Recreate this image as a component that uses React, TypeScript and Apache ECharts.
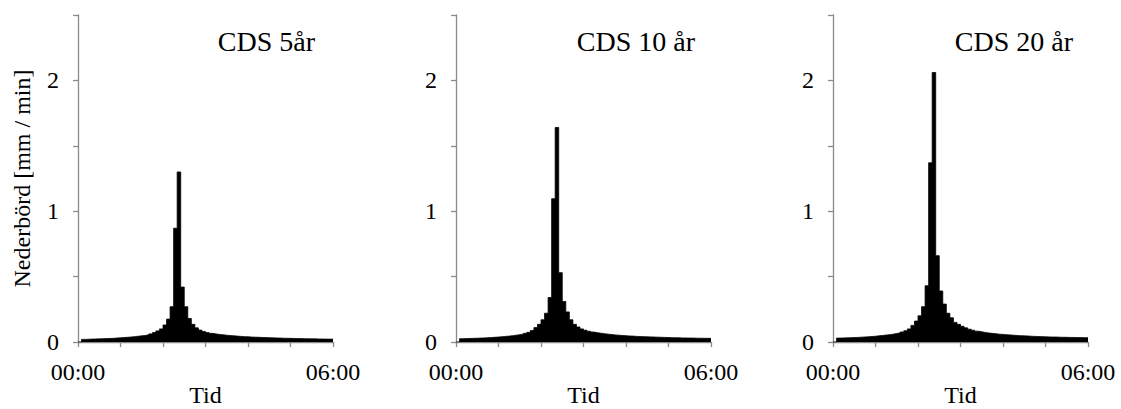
import React, { useEffect, useRef } from "react";
import * as echarts from "echarts";

// Nederbörd [mm/min] per 5-minutersintervall (start = index * 5 min)
const cds5: number[] = [
  0,
  0.020, 0.021, 0.022, 0.023, 0.024, 0.025, 0.026, 0.027, 0.028, 0.030,
  0.032, 0.034, 0.036, 0.038, 0.041, 0.044, 0.047, 0.050, 0.055, 0.062,
  0.072, 0.085, 0.10, 0.13, 0.175, 0.27, 0.87, 1.30,
  0.42, 0.27, 0.18, 0.135, 0.108, 0.091, 0.080, 0.072, 0.066, 0.062, 0.058, 0.055,
  0.052, 0.049, 0.047, 0.045, 0.043, 0.041, 0.040, 0.038, 0.037, 0.036,
  0.035, 0.034, 0.033, 0.032, 0.031, 0.030, 0.029, 0.028, 0.028, 0.027,
  0.026, 0.026, 0.025, 0.025, 0.024, 0.024, 0.023, 0.023, 0.022, 0.022, 0.022,
];

const cds10: number[] = [
  0,
  0.025, 0.026, 0.027, 0.028, 0.029, 0.030, 0.031, 0.033, 0.034, 0.036,
  0.038, 0.040, 0.043, 0.045, 0.048, 0.052, 0.056, 0.060, 0.066, 0.074,
  0.088, 0.11, 0.135, 0.17, 0.22, 0.34, 1.095, 1.64,
  0.53, 0.31, 0.23, 0.17, 0.135, 0.115, 0.100, 0.090, 0.082, 0.076, 0.071, 0.067,
  0.063, 0.060, 0.057, 0.054, 0.052, 0.050, 0.048, 0.046, 0.045, 0.043,
  0.042, 0.041, 0.040, 0.039, 0.038, 0.037, 0.036, 0.035, 0.034, 0.033,
  0.033, 0.032, 0.031, 0.031, 0.030, 0.030, 0.029, 0.029, 0.028, 0.028, 0.028,
];

const cds20: number[] = [
  0,
  0.030, 0.031, 0.032, 0.033, 0.034, 0.035, 0.037, 0.038, 0.040, 0.042,
  0.044, 0.047, 0.050, 0.053, 0.056, 0.060, 0.065, 0.070, 0.077, 0.086,
  0.10, 0.127, 0.16, 0.20, 0.27, 0.43, 1.37, 2.06,
  0.66, 0.39, 0.29, 0.22, 0.185, 0.15, 0.135, 0.12, 0.108, 0.098, 0.090, 0.083,
  0.078, 0.073, 0.069, 0.066, 0.063, 0.060, 0.058, 0.056, 0.054, 0.052,
  0.050, 0.048, 0.047, 0.046, 0.044, 0.043, 0.042, 0.041, 0.040, 0.039,
  0.038, 0.038, 0.037, 0.036, 0.036, 0.035, 0.035, 0.034, 0.034, 0.033, 0.033,
];

const panelTitles = ["CDS 5år", "CDS 10 år", "CDS 20 år"];
const panelSeries = [cds5, cds10, cds20];
const stepMinutes = 5;
const xLabelMap: Record<number, string> = { 0: "00:00", 360: "06:00" };
const yLabels = [0, 1, 2];
const xTitle = "Tid";
const yTitle = "Nederbörd [mm / min]";

const FONT = "'Liberation Serif', 'Times New Roman', serif";
const AXIS_COLOR = "#8a8a8a";

export default function App() {
  const ref = useRef<HTMLDivElement>(null);

  useEffect(() => {
    if (!ref.current) return;
    const chart = echarts.init(ref.current, undefined, { renderer: "svg" });

    const gridLefts = [78, 456, 833];
    const plotWidth = 255;
    const titleRights = [315, 695, 1073];

    const grids = gridLefts.map((l) => ({
      left: l,
      width: plotWidth,
      top: 15,
      height: 327,
      containLabel: false,
      outerBoundsMode: "none",
    }));

    const xAxes = gridLefts.map((_, i) => ({
      type: "value",
      gridIndex: i,
      min: 0,
      max: 360,
      interval: 60,
      name: xTitle,
      nameLocation: "middle",
      nameGap: 41,
      nameMoveOverlap: false,
      nameTextStyle: { fontFamily: FONT, fontSize: 24, color: "#000", lineHeight: 24 },
      axisLine: { show: true, lineStyle: { color: AXIS_COLOR, width: 1.3 } },
      axisTick: { show: true, length: 5, inside: false, lineStyle: { color: AXIS_COLOR, width: 1.3 } },
      axisLabel: {
        fontFamily: FONT,
        fontSize: 24,
        color: "#000",
        margin: 18,
        showMinLabel: true,
        showMaxLabel: true,
        formatter: (v: number) => xLabelMap[v] ?? "",
      },
      splitLine: { show: false },
    }));

    const yAxes = gridLefts.map((_, i) => ({
      type: "value",
      gridIndex: i,
      min: 0,
      max: 2.5,
      interval: 0.5,
      name: i === 0 ? yTitle : "",
      nameLocation: "middle",
      nameGap: 44,
      nameRotate: 90,
      nameMoveOverlap: false,
      nameTextStyle: { fontFamily: FONT, fontSize: 24, color: "#000" },
      axisLine: { show: true, lineStyle: { color: AXIS_COLOR, width: 1.3 } },
      axisTick: { show: true, length: 5, inside: false, lineStyle: { color: AXIS_COLOR, width: 1.3 } },
      axisLabel: {
        fontFamily: FONT,
        fontSize: 24,
        color: "#000",
        margin: 19,
        formatter: (v: number) => (yLabels.includes(v) ? String(v) : ""),
      },
      splitLine: { show: false },
    }));

    // Stepped, filled area: each 5-minute value holds from its start to the next start.
    const series = panelSeries.map((vals, i) => {
      const pts = vals.map((v, k) => [k * stepMinutes, v]);
      pts.push([vals.length * stepMinutes, vals[vals.length - 1]]);
      return {
        type: "line",
        xAxisIndex: i,
        yAxisIndex: i,
        step: "end",
        symbol: "none",
        data: pts,
        lineStyle: { color: "#000", width: 0.8 },
        areaStyle: { color: "#000", opacity: 1, origin: "start" },
        z: 1,
      };
    });

    const titles = panelTitles.map((t, i) => ({
      text: t,
      right: 1121 - titleRights[i],
      top: 27,
      padding: 0,
      textStyle: { fontFamily: FONT, fontSize: 28, fontWeight: "normal", color: "#000" },
    }));

    chart.setOption({
      animation: false,
      backgroundColor: "#fff",
      title: titles,
      grid: grids,
      xAxis: xAxes,
      yAxis: yAxes,
      series,
    });

    return () => chart.dispose();
  }, []);

  return (
    <div
      ref={ref}
      style={{ position: "fixed", left: 0, top: 0, width: 1121, height: 409, background: "#fff" }}
    />
  );
}
